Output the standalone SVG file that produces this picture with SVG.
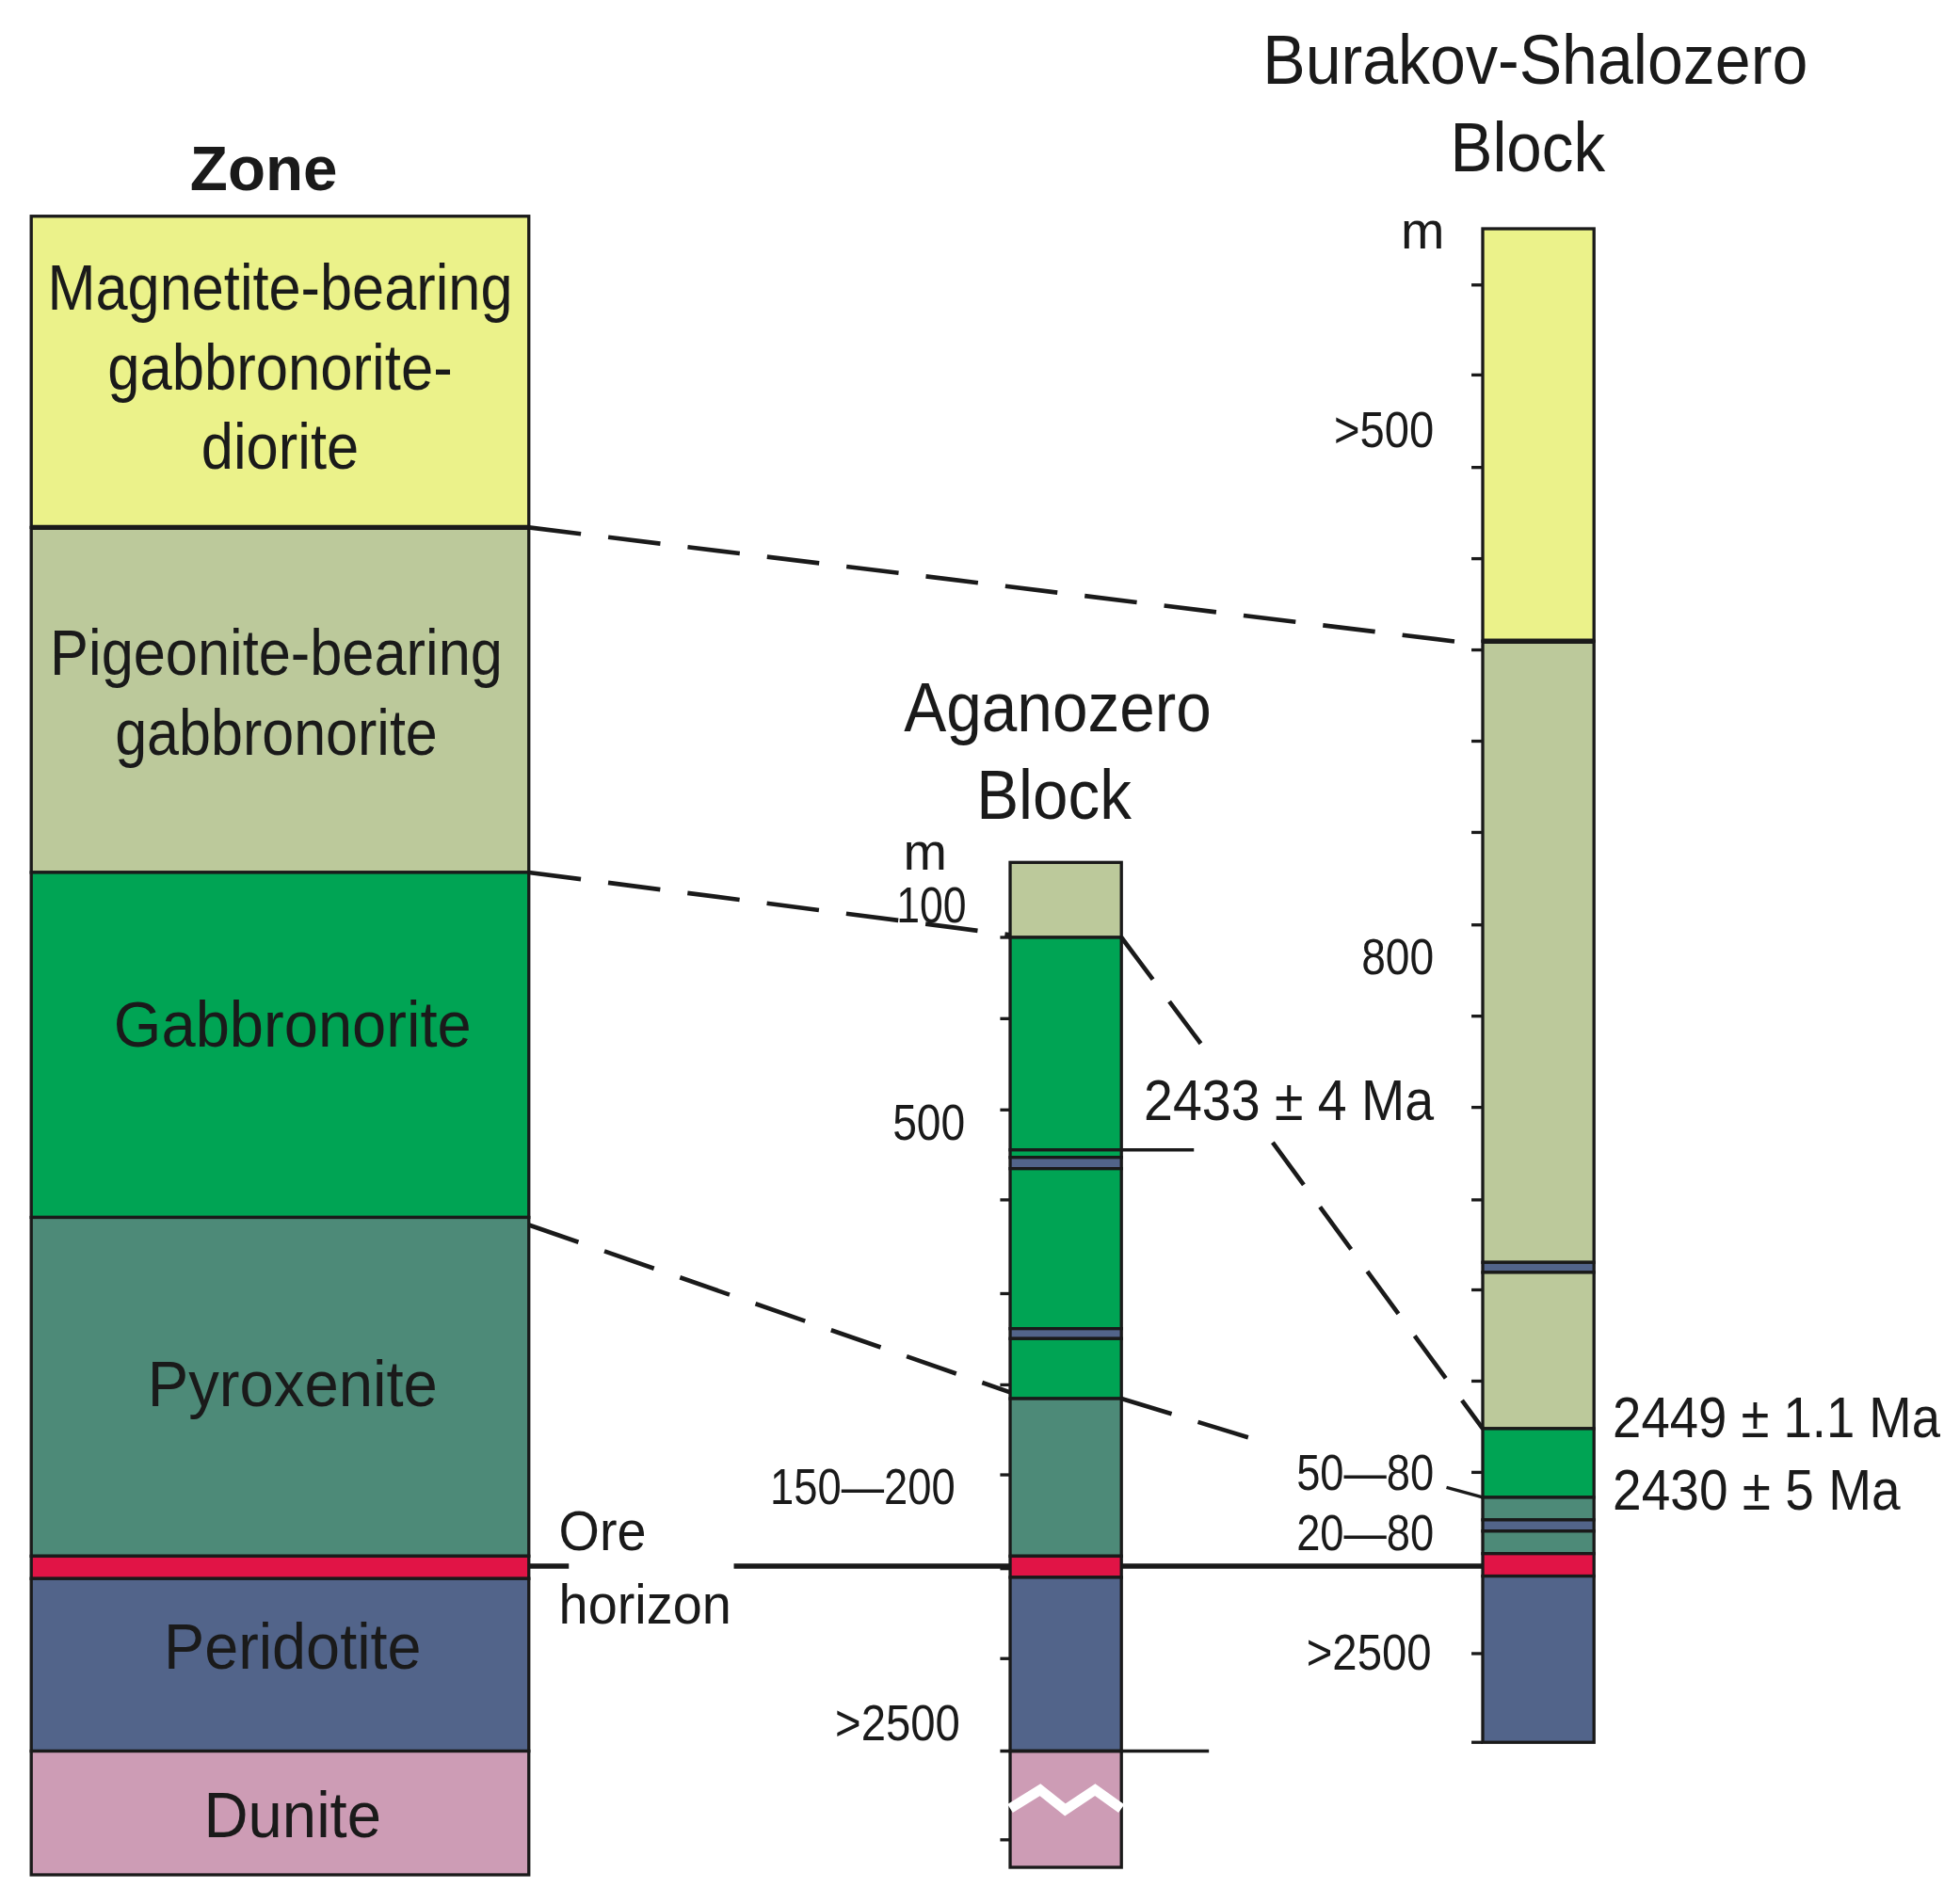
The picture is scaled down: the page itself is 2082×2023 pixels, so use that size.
<svg xmlns="http://www.w3.org/2000/svg" width="2082" height="2023" viewBox="0 0 2082 2023">
<style>
text{font-family:"Liberation Sans",Arial,sans-serif;fill:#1a1a1a}
.z{font-size:52px;text-anchor:middle}
.l{font-size:40px}
.t{font-size:56px;text-anchor:middle}
.b{stroke:#1a1a1a;stroke-width:2.5}
.tk{stroke:#1a1a1a;stroke-width:2.5}
.d{stroke:#1a1a1a;stroke-width:3.5;stroke-dasharray:42 22;fill:none}
.y{fill:#ebf28a}.p{fill:#bcc99b}.g{fill:#00a454}.x{fill:#4d8a78}.r{fill:#e11446}.pe{fill:#52648a}.du{fill:#cd9cb5}
</style>
<rect width="2082" height="2023" fill="#fff"/>
<g transform="scale(1.328)">
<g id="zone">
<text x="211" y="152" style="font-size:50px;font-weight:bold;text-anchor:middle" textLength="118" lengthAdjust="spacingAndGlyphs">Zone</text>
<rect class="y b" x="25" y="173" width="398" height="249"/>
<rect class="p b" x="25" y="422" width="398" height="276"/>
<rect class="g b" x="25" y="698" width="398" height="276"/>
<rect class="x b" x="25" y="974" width="398" height="271"/>
<rect class="r b" x="25" y="1245" width="398" height="18"/>
<rect class="pe b" x="25" y="1263" width="398" height="138"/>
<rect class="du b" x="25" y="1401" width="398" height="99"/>
<line x1="25" y1="422" x2="423" y2="422" stroke="#1a1a1a" stroke-width="4"/>
<text class="z" x="224" y="248" textLength="372" lengthAdjust="spacingAndGlyphs">Magnetite-bearing</text>
<text class="z" x="224" y="312" textLength="276" lengthAdjust="spacingAndGlyphs">gabbronorite-</text>
<text class="z" x="224" y="375" textLength="126" lengthAdjust="spacingAndGlyphs">diorite</text>
<text class="z" x="221" y="540" textLength="362" lengthAdjust="spacingAndGlyphs">Pigeonite-bearing</text>
<text class="z" x="221" y="604" textLength="258" lengthAdjust="spacingAndGlyphs">gabbronorite</text>
<text class="z" x="234" y="837" textLength="286" lengthAdjust="spacingAndGlyphs">Gabbronorite</text>
<text class="z" x="234" y="1125" textLength="232" lengthAdjust="spacingAndGlyphs">Pyroxenite</text>
<text class="z" x="234" y="1335" textLength="206" lengthAdjust="spacingAndGlyphs">Peridotite</text>
<text class="z" x="234" y="1470" textLength="142" lengthAdjust="spacingAndGlyphs">Dunite</text>
</g>
<g id="aganozero">
<text class="t" x="846" y="585" textLength="246" lengthAdjust="spacingAndGlyphs">Aganozero</text>
<text class="t" x="843" y="655" textLength="124" lengthAdjust="spacingAndGlyphs">Block</text>
<rect class="p b" x="808" y="690" width="89" height="60"/>
<rect class="g b" x="808" y="750" width="89" height="170"/>
<rect class="g b" x="808" y="920" width="89" height="6"/>
<rect class="pe b" x="808" y="926" width="89" height="9"/>
<rect class="g b" x="808" y="935" width="89" height="128"/>
<rect class="pe b" x="808" y="1063" width="89" height="8"/>
<rect class="g b" x="808" y="1071" width="89" height="48"/>
<rect class="x b" x="808" y="1119" width="89" height="126"/>
<rect class="r b" x="808" y="1245" width="89" height="17"/>
<rect class="pe b" x="808" y="1262" width="89" height="139"/>
<rect class="du b" x="808" y="1401" width="89" height="93"/>
<polyline points="808,1447 832,1432 852,1448 876,1432 897,1447" fill="none" stroke="#fff" stroke-width="8"/>
<g class="tk">
<line x1="800" y1="750" x2="808" y2="750"/><line x1="800" y1="815" x2="808" y2="815"/><line x1="800" y1="888" x2="808" y2="888"/><line x1="800" y1="960" x2="808" y2="960"/><line x1="800" y1="1035" x2="808" y2="1035"/><line x1="800" y1="1108" x2="808" y2="1108"/><line x1="800" y1="1180" x2="808" y2="1180"/><line x1="800" y1="1255" x2="808" y2="1255"/><line x1="800" y1="1327" x2="808" y2="1327"/><line x1="800" y1="1472" x2="808" y2="1472"/>
<line x1="800" y1="1401" x2="967" y2="1401"/><line x1="897" y1="920" x2="955" y2="920"/>
</g>
<text class="l" x="740" y="696" text-anchor="middle" style="font-size:42px">m</text>
<text class="l" x="745" y="738" text-anchor="middle" textLength="56" lengthAdjust="spacingAndGlyphs">100</text>
<text class="l" x="743" y="912" text-anchor="middle" textLength="58" lengthAdjust="spacingAndGlyphs">500</text>
<text class="l" x="690" y="1203" text-anchor="middle" textLength="148" lengthAdjust="spacingAndGlyphs">150—200</text>
<text class="l" x="718" y="1392" text-anchor="middle" textLength="100" lengthAdjust="spacingAndGlyphs">&gt;2500</text>
</g>
<g id="burakov">
<text class="t" x="1228" y="67" textLength="436" lengthAdjust="spacingAndGlyphs">Burakov-Shalozero</text>
<text class="t" x="1222" y="137" textLength="124" lengthAdjust="spacingAndGlyphs">Block</text>
<rect class="y b" x="1186" y="183" width="89" height="330"/>
<rect class="p b" x="1186" y="513" width="89" height="497"/>
<rect class="pe b" x="1186" y="1010" width="89" height="8"/>
<rect class="p b" x="1186" y="1018" width="89" height="125"/>
<rect class="g b" x="1186" y="1143" width="89" height="55"/>
<rect class="x b" x="1186" y="1198" width="89" height="18"/>
<rect class="pe b" x="1186" y="1216" width="89" height="9"/>
<rect class="x b" x="1186" y="1225" width="89" height="18"/>
<rect class="r b" x="1186" y="1243" width="89" height="18"/>
<rect class="pe b" x="1186" y="1261" width="89" height="133"/>
<line x1="1186" y1="513" x2="1275" y2="513" stroke="#1a1a1a" stroke-width="4"/>
<g class="tk">
<line x1="1177" y1="228" x2="1186" y2="228"/><line x1="1177" y1="300" x2="1186" y2="300"/><line x1="1177" y1="374" x2="1186" y2="374"/><line x1="1177" y1="447" x2="1186" y2="447"/><line x1="1177" y1="520" x2="1186" y2="520"/><line x1="1177" y1="593" x2="1186" y2="593"/><line x1="1177" y1="666" x2="1186" y2="666"/><line x1="1177" y1="740" x2="1186" y2="740"/><line x1="1177" y1="813" x2="1186" y2="813"/><line x1="1177" y1="886" x2="1186" y2="886"/><line x1="1177" y1="960" x2="1186" y2="960"/><line x1="1177" y1="1032" x2="1186" y2="1032"/><line x1="1177" y1="1105" x2="1186" y2="1105"/><line x1="1177" y1="1178" x2="1186" y2="1178"/><line x1="1177" y1="1323" x2="1186" y2="1323"/><line x1="1177" y1="1394" x2="1186" y2="1394"/>
<line x1="1157" y1="1190" x2="1186" y2="1198"/>
</g>
<text class="l" x="1138" y="199" text-anchor="middle" style="font-size:42px">m</text>
<text class="l" x="1107" y="358" text-anchor="middle" textLength="80" lengthAdjust="spacingAndGlyphs">&gt;500</text>
<text class="l" x="1118" y="779" text-anchor="middle" textLength="58" lengthAdjust="spacingAndGlyphs">800</text>
<text class="l" x="1092" y="1192" text-anchor="middle" textLength="110" lengthAdjust="spacingAndGlyphs">50—80</text>
<text class="l" x="1092" y="1240" text-anchor="middle" textLength="110" lengthAdjust="spacingAndGlyphs">20—80</text>
<text class="l" x="1095" y="1336" text-anchor="middle" textLength="100" lengthAdjust="spacingAndGlyphs">&gt;2500</text>
<text class="l" x="915" y="896" style="font-size:46px" textLength="232" lengthAdjust="spacingAndGlyphs">2433 ± 4 Ma</text>
<text class="l" x="1290" y="1150" style="font-size:46px" textLength="262" lengthAdjust="spacingAndGlyphs">2449 ± 1.1 Ma</text>
<text class="l" x="1290" y="1208" style="font-size:46px" textLength="230" lengthAdjust="spacingAndGlyphs">2430 ± 5 Ma</text>
</g>
<g id="ore">
<text class="l" x="447" y="1240" style="font-size:44px" textLength="70" lengthAdjust="spacingAndGlyphs">Ore</text>
<text class="l" x="447" y="1299" style="font-size:44px" textLength="138" lengthAdjust="spacingAndGlyphs">horizon</text>
</g>
<g id="connectors">
<path d="M423 1253H455M587 1253H808M897 1253H1186" stroke="#1a1a1a" stroke-width="4" fill="none"/>
<path class="d" d="M423 422L1186 516"/>
<path class="d" d="M423 698L808 748"/>
<path class="d" d="M897 750L968 845"/>
<path class="d" d="M1018 914L1186 1143"/>
<path class="d" d="M423 980L808 1114"/>
<path class="d" d="M897 1119L1005 1152"/>
</g>
</g>
</svg>
